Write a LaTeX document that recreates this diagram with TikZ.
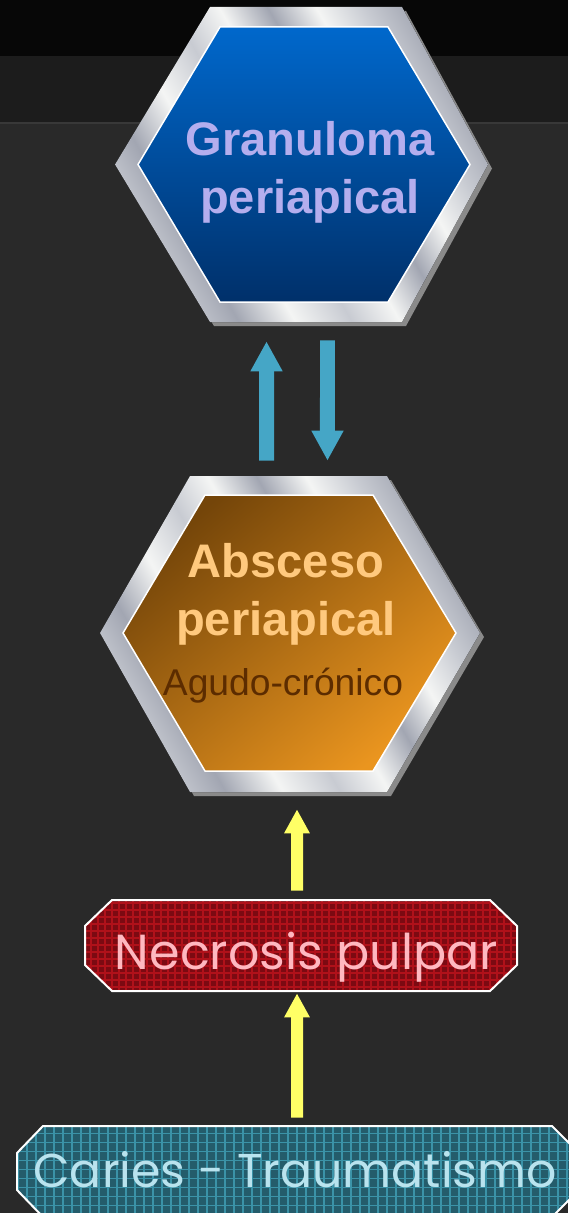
\documentclass[tikz,border=0pt]{standalone}
\usepackage{fontspec}
\setmainfont{Liberation Sans}
\newfontfamily\comicfont{Poppins}
\usetikzlibrary{arrows.meta}

\definecolor{bgtop}{HTML}{070707}
\definecolor{bgband}{HTML}{1C1C1C}
\definecolor{bgline}{HTML}{383838}
\definecolor{bgmain}{HTML}{292929}
\definecolor{hexshadow}{HTML}{8A8A8A}
\definecolor{metalA}{HTML}{C8CBD2}
\definecolor{metalB}{HTML}{A2A6B2}
\definecolor{metalC}{HTML}{F4F5F4}
\definecolor{granA}{HTML}{0068CC}
\definecolor{granB}{HTML}{00306A}
\definecolor{grantext}{HTML}{B4AEEE}
\definecolor{absA}{HTML}{744509}
\definecolor{absB}{HTML}{EA951F}
\definecolor{abstext}{HTML}{FFC97E}
\definecolor{agudotext}{HTML}{5C2C00}
\definecolor{arrowblue}{HTML}{45A6C6}
\definecolor{arrowyellow}{HTML}{FFFF66}
\definecolor{necrfill}{HTML}{7C0A12}
\definecolor{necrline}{HTML}{B0111A}
\definecolor{necrtext}{HTML}{FFB8C0}
\definecolor{cariesfill}{HTML}{245C6B}
\definecolor{caricline}{HTML}{3B93A8}
\definecolor{cariestext}{HTML}{B9E3EE}

\pgfdeclarehorizontalshading{metal}{100bp}{color(0bp)=(metalA); color(25bp)=(metalA);
  color(31bp)=(metalB); color(38bp)=(metalC); color(45bp)=(metalA); color(51bp)=(metalC);
  color(57bp)=(metalB); color(63bp)=(metalC); color(69bp)=(metalA); color(75bp)=(metalB);
  color(100bp)=(metalB)}

\begin{document}
\begin{tikzpicture}[x=0.02cm, y=-0.02cm,
	hexbox/.style={minimum width=7.46cm, minimum height=6.3cm, inner sep=0pt},
	frame/.style={shading=metal, shading angle=30},
	hexinner/.style={draw=white, line width=0.03cm},
	boxborder/.style={draw=white, line width=0.04cm},
	bigtext/.style={align=center, text depth=0pt, font=\fontsize{26.8}{33}\selectfont\bfseries},
	comictext/.style={anchor=base, font=\comicfont\fontsize{27}{32}\selectfont},
	bluearrow/.style={draw=arrowblue, line width=0.3cm, -{Triangle[width=0.6cm,length=0.6cm]}},
	yellowarrow/.style={draw=arrowyellow, line width=0.24cm, -{Triangle[width=0.48cm,length=0.48cm]}}]
		\useasboundingbox (0,0) rectangle (568,1213);
		% background
		\fill[bgtop] (0,0) rectangle (568,56);
		\fill[bgband] (0,56) rectangle (568,123);
		\fill[bgmain] (0,123) rectangle (568,1213);
		\draw[bgline, line width=0.03cm] (0,123) -- (568,123);

		% granuloma
		\fill[hexshadow, shift={(4,4)}] (115,164.5) -- (210,7) -- (402,7) -- (488,164.5) -- (402,322) -- (210,322) -- cycle;
		\fill[frame] (115,164.5) -- (210,7) -- (402,7) -- (488,164.5) -- (402,322) -- (210,322) -- cycle;
		\draw[hexinner, top color=granA, bottom color=granB] (138,164.5) -- (220,27) -- (388,27) -- (470,164.5) -- (388,302) -- (220,302) -- cycle;
		\node[hexbox] (gran) at (301.5,164.5) {};
		\node[bigtext, text=grantext] (grantxt) at (310,167) {Granuloma\\periapical};

		% absceso
		\fill[hexshadow, shift={(4,4)}] (100,633) -- (190,476) -- (387,476) -- (480,633) -- (387,792) -- (190,792) -- cycle;
		\fill[frame] (100,633) -- (190,476) -- (387,476) -- (480,633) -- (387,792) -- (190,792) -- cycle;
		\draw[hexinner, top color=absA, bottom color=absB, shading angle=40] (123,633) -- (205,495) -- (373,495) -- (456,633) -- (373,771) -- (205,771) -- cycle;
		\node[hexbox, minimum width=7.6cm, minimum height=6.32cm] (absc) at (290,634) {};
		\node[bigtext, text=abstext] (absctxt) at (286,589.5) {Absceso\\periapical};
		\node[anchor=base, text=agudotext, font=\fontsize{21.2}{25}\selectfont] (agudo) at (283,695) {Agudo-crónico};

		% necrosis pulpar
		\begin{scope}
			\clip (85,926) -- (112,900) -- (490,900) -- (517,926) -- (517,965) -- (490,991) -- (112,991) -- (85,965) -- cycle;
			\fill[necrfill] (85,900) rectangle (517,991);
			\draw[necrline, line width=0.03cm, step=0.14cm] (85,900) grid (517,991);
		\end{scope}
		\draw[boxborder] (85,926) -- (112,900) -- (490,900) -- (517,926) -- (517,965) -- (490,991) -- (112,991) -- (85,965) -- cycle;
		\node[minimum width=8.64cm, minimum height=1.82cm, inner sep=0pt] (necr) at (301,945.5) {};
		\node[comictext, text=necrtext, font=\comicfont\fontsize{28}{32}\selectfont] (necrtxt) at (306.5,969) {Necrosis pulpar};

		% caries - traumatismo
		\begin{scope}
			\clip (17,1153) -- (43,1126) -- (552,1126) -- (579,1153) -- (579,1190) -- (552,1217) -- (43,1217) -- (17,1190) -- cycle;
			\fill[cariesfill] (17,1126) rectangle (579,1217);
			\draw[caricline, line width=0.03cm, step=0.18cm] (17,1126) grid (579,1217);
		\end{scope}
		\draw[boxborder] (17,1153) -- (43,1126) -- (552,1126) -- (579,1153) -- (579,1190) -- (552,1217) -- (43,1217) -- (17,1190) -- cycle;
		\node[minimum width=11.24cm, minimum height=1.82cm, inner sep=0pt] (caries) at (298,1171.5) {};
		\node[comictext, text=cariestext] (cariestxt) at (295,1187) {Caries - Traumatismo};

		% arrows
		\draw[bluearrow] ([xshift=-0.47cm,yshift=0.3cm]absc.north) -- ([xshift=-0.7cm,yshift=-0.38cm]gran.south);
		\draw[bluearrow] ([xshift=0.52cm,yshift=-0.36cm]gran.south) -- ([xshift=0.75cm,yshift=0.3cm]absc.north);
		\draw[yellowarrow] ([xshift=-0.08cm,yshift=0.18cm]necr.north) -- ([xshift=0.14cm,yshift=-0.34cm]absc.south);
		\draw[yellowarrow] ([xshift=-0.02cm,yshift=0.16cm]caries.north) -- ([xshift=-0.08cm,yshift=-0.04cm]necr.south);
\end{tikzpicture}
\end{document}
